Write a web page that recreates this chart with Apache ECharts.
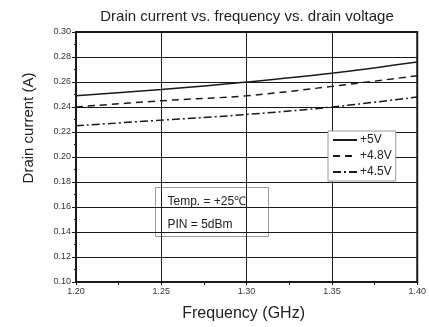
<!DOCTYPE html>
<html>
<head>
<meta charset="utf-8">
<script src="https://cdn.jsdelivr.net/npm/echarts@6/dist/echarts.min.js"></script>
<style>
  html, body { margin: 0; padding: 0; background: #fff; }
  #chart { width: 429px; height: 327px; }
</style>
</head>
<body>
<div id="chart"></div>
<script>
// Frequency sweep (GHz) and drain current (A) at each drain voltage
const frequency = [1.20, 1.25, 1.30, 1.35, 1.40];
const current5V = [0.249, 0.254, 0.260, 0.267, 0.276];
const current4_8V = [0.240, 0.245, 0.249, 0.2565, 0.265];
const current4_5V = [0.225, 0.2295, 0.234, 0.240, 0.248];
const seriesNames = ['+5V', '+4.8V', '+4.5V'];
const noteLines = ['Temp. = +25\u2103', 'PIN = 5dBm'];
const yAxisTitle = 'Drain current (A)';

const FONT = '"Liberation Sans", Arial, sans-serif';
const pairs = (ys) => frequency.map((f, i) => [f, ys[i]]);

const chart = echarts.init(document.getElementById('chart'), null, { renderer: 'canvas' });

const lineSeries = (name, ys, type) => ({
  name: name,
  type: 'line',
  data: pairs(ys),
  smooth: 0.35,
  symbol: 'none',
  lineStyle: { color: '#1a1a1a', width: 1.5, type: type },
  itemStyle: { color: '#1a1a1a' },
  z: 3
});

chart.setOption({
  animation: false,
  backgroundColor: '#fff',
  textStyle: { fontFamily: FONT },
  title: {
    text: 'Drain current vs. frequency vs. drain voltage',
    left: 242,
    textAlign: 'center',
    top: 4,
    textStyle: { fontFamily: FONT, fontSize: 15, fontWeight: 'normal', color: '#222' }
  },
  grid: {
    left: 76, right: 8, top: 32, bottom: 42,
    show: true, borderColor: '#1a1a1a', borderWidth: 2, backgroundColor: 'transparent'
  },
  legend: {
    orient: 'vertical',
    left: 328, top: 131,
    data: seriesNames,
    itemWidth: 24, itemHeight: 10, itemGap: 4,
    padding: [3, 4, 3, 4],
    borderColor: '#999', borderWidth: 1, backgroundColor: '#fff',
    itemStyle: { opacity: 0 },
    textStyle: { fontFamily: FONT, fontSize: 12, color: '#222', padding: [0, 0, 0, -2] }
  },
  xAxis: {
    type: 'value',
    min: 1.20, max: 1.40, interval: 0.05,
    name: 'Frequency (GHz)',
    nameLocation: 'middle',
    nameGap: 24,
    nameTextStyle: { fontFamily: FONT, fontSize: 16, color: '#222', padding: [0, 0, 0, -6] },
    axisLine: { show: true, lineStyle: { color: '#1a1a1a', width: 2 } },
    axisTick: { show: true, length: 3, inside: false, lineStyle: { color: '#1a1a1a' } },
    minorTick: { show: true, splitNumber: 2, length: 3, lineStyle: { color: '#1a1a1a' } },
    axisLabel: { fontFamily: FONT, fontSize: 9, color: '#333', margin: 5,
                 formatter: (v) => v.toFixed(2) },
    splitLine: { show: true, lineStyle: { color: '#1a1a1a', width: 1 } }
  },
  yAxis: {
    type: 'value',
    min: 0.10, max: 0.30, interval: 0.02,
    axisLine: { show: true, lineStyle: { color: '#1a1a1a', width: 2 } },
    axisTick: { show: true, length: 4, lineStyle: { color: '#1a1a1a' } },
    minorTick: { show: true, splitNumber: 2, length: 2, lineStyle: { color: '#1a1a1a' } },
    axisLabel: { fontFamily: FONT, fontSize: 9, color: '#333', margin: 5,
                 formatter: (v) => v.toFixed(2) },
    splitLine: { show: true, lineStyle: { color: '#1a1a1a', width: 1 } }
  },
  graphic: [
    {
      // vertical axis title
      type: 'text',
      x: 29, y: 128, rotation: Math.PI / 2,
      style: { text: yAxisTitle, font: '15px ' + FONT, fill: '#222',
               align: 'center', verticalAlign: 'middle' }
    },
    {
      type: 'group',
      left: 155, top: 187, z: 10,
      children: [
        { type: 'rect', shape: { x: 0, y: 0, width: 113, height: 49 },
          style: { fill: '#fff', stroke: '#999', lineWidth: 1 } },
        { type: 'text', x: 12, y: 8,
          style: { text: noteLines[0], font: '12px ' + FONT, fill: '#222' } },
        { type: 'text', x: 12, y: 31,
          style: { text: noteLines[1], font: '12px ' + FONT, fill: '#222' } }
      ]
    }
  ],
  series: [
    lineSeries(seriesNames[0], current5V, 'solid'),
    lineSeries(seriesNames[1], current4_8V, [7, 5]),
    lineSeries(seriesNames[2], current4_5V, [8, 3, 2, 3])
  ]
});
</script>
</body>
</html>
